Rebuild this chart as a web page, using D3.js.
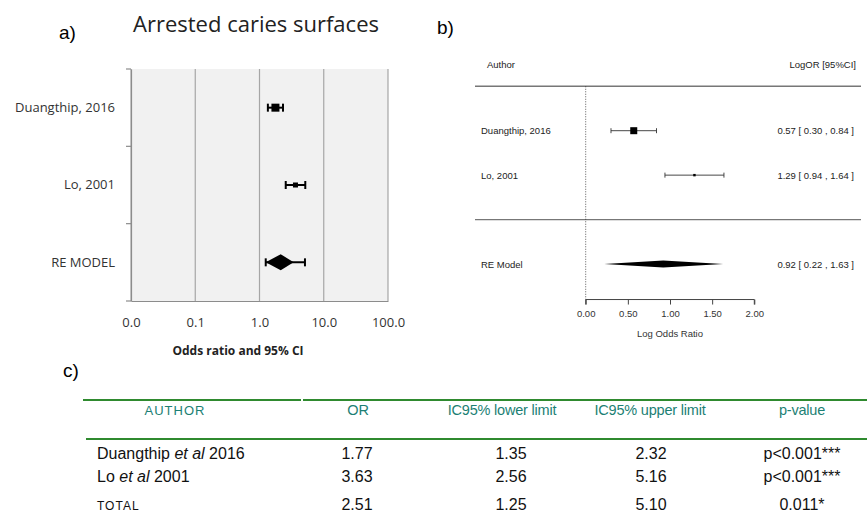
<!DOCTYPE html>
<html><head><meta charset="utf-8">
<script src="https://cdn.jsdelivr.net/npm/d3@7"></script>
<style>
html,body{margin:0;padding:0;background:#fff;}
svg{display:block;}
</style></head>
<body>
<svg id="c" width="867" height="514"></svg>
<script>
// ---------- DATA ----------
const studiesA = ["Duangthip, 2016", "Lo, 2001", "RE MODEL"];
const orValues = [1.77, 3.63, 2.51];
const orLower = [1.35, 2.56, 1.25];
const orUpper = [2.32, 5.16, 5.10];
const diamondA = [1.25, 2.14, 3.4];      // pooled diamond as drawn in panel a (left, centre, right)
const tickValuesA = [0.01, 0.1, 1, 10, 100];
const tickLabelsA = ["0.0", "0.1", "1.0", "10.0", "100.0"];

const studiesB = ["Duangthip, 2016", "Lo, 2001"];
const logOR = [0.57, 1.29];
const logLower = [0.30, 0.94];
const logUpper = [0.84, 1.64];
const weightsB = [0.75, 0.25];
const pooledLabel = "RE Model";
const pooledLog = [0.92, 0.22, 1.63];
const tickValuesB = [0, 0.5, 1, 1.5, 2];

const tableHeader = ["AUTHOR", "OR", "IC95% lower limit", "IC95% upper limit", "p-value"];
const tableAuthors = [["Duangthip ", "et al", " 2016"], ["Lo ", "et al", " 2001"], ["TOTAL", "", ""]];
const tableOR = ["1.77", "3.63", "2.51"];
const tableLower = ["1.35", "2.56", "1.25"];
const tableUpper = ["2.32", "5.16", "5.10"];
const tablePval = ["p<0.001***", "p<0.001***", "0.011*"];

const svg = d3.select("#c");

// ---------- PANEL A ----------
const fA = "'Open Sans', sans-serif";
const xA = d3.scaleLog().domain([0.01, 100]).range([131, 388]);
const yA = d3.scaleBand().domain(studiesA).range([69, 301]);
const gA = svg.append("g");

svg.append("text").attr("x", 59).attr("y", 39).attr("font-family", "'Liberation Sans', Arial, sans-serif")
  .attr("font-size", 19).text("a)");
gA.append("text").attr("x", 256).attr("y", 32).attr("text-anchor", "middle")
  .attr("font-family", fA).attr("font-size", 22).attr("fill", "#222").text("Arrested caries surfaces");

gA.append("rect").attr("x", xA(0.01)).attr("y", 69).attr("width", xA(100) - xA(0.01)).attr("height", 232)
  .attr("fill", "#f1f1f1");
// gridlines
gA.selectAll("line.grid").data(tickValuesA).join("line")
  .attr("x1", d => xA(d)).attr("x2", d => xA(d)).attr("y1", 69).attr("y2", 301)
  .attr("stroke", "#a6a6a6").attr("stroke-width", 1.2);
// x-axis
const axA = d3.axisBottom(xA).tickValues(tickValuesA).tickFormat((d, i) => tickLabelsA[i]).tickSize(0).tickPadding(16.5);
const gax = gA.append("g").attr("transform", "translate(0,301)").call(axA);
gax.select(".domain").attr("stroke", "#8c8c8c").attr("stroke-width", 1.2);
gax.selectAll("text").attr("font-family", fA).attr("font-size", 13).attr("fill", "#333");
// y-axis
const ayA = d3.axisLeft(yA).tickSize(0).tickPadding(16);
const gay = gA.append("g").attr("transform", `translate(${xA(0.01)},0)`).call(ayA);
gay.select(".domain").attr("stroke", "#8c8c8c").attr("stroke-width", 1.2);
gay.selectAll("text").attr("font-family", fA).attr("font-size", 13).attr("fill", "#333");
// band boundary ticks
gA.selectAll("line.yt").data([69, 69 + yA.step(), 69 + 2 * yA.step(), 301]).join("line")
  .attr("x1", xA(0.01) - 5).attr("x2", xA(0.01)).attr("y1", d => d).attr("y2", d => d)
  .attr("stroke", "#8c8c8c").attr("stroke-width", 1.2);

gA.append("text").attr("x", 238).attr("y", 355).attr("text-anchor", "middle")
  .attr("font-family", fA).attr("font-weight", "bold").attr("font-size", 12).attr("fill", "#222")
  .text("Odds ratio and 95% CI");

// whiskers
studiesA.forEach((s, i) => {
  const cy = yA(s) + yA.bandwidth() / 2;
  const g = gA.append("g");
  g.append("line").attr("x1", xA(orLower[i])).attr("x2", xA(orUpper[i])).attr("y1", cy).attr("y2", cy)
    .attr("stroke", "#000").attr("stroke-width", 2);
  [orLower[i], orUpper[i]].forEach(v => g.append("line").attr("x1", xA(v)).attr("x2", xA(v))
    .attr("y1", cy - 4).attr("y2", cy + 4).attr("stroke", "#000").attr("stroke-width", 2));
  if (i < 2) {
    const sz = i === 0 ? 8 : 5;
    g.append("rect").attr("x", xA(orValues[i]) - sz / 2).attr("y", cy - sz / 2)
      .attr("width", sz).attr("height", sz).attr("fill", "#000");
  } else {
    g.append("path").attr("d", `M${xA(diamondA[0])},${cy} L${xA(diamondA[1])},${cy - 8} L${xA(diamondA[2])},${cy} L${xA(diamondA[1])},${cy + 8}Z`)
      .attr("fill", "#000");
  }
});

// ---------- PANEL B ----------
const fB = "'Liberation Sans', Arial, sans-serif";
const xB = d3.scaleLinear().domain([0, 2]).range([585.7, 754.3]);
const yB = d3.scaleLinear().domain([0, 3]).range([264, 130.7]);
const gB = svg.append("g");
svg.append("text").attr("x", 437).attr("y", 34).attr("font-family", fB).attr("font-size", 19).text("b)");

gB.append("text").attr("x", 487).attr("y", yB(4.5) + 3.5).attr("font-family", fB).attr("font-size", 9.5).attr("fill", "#222").text("Author");
gB.append("text").attr("x", 856).attr("y", yB(4.5) + 3.5).attr("text-anchor", "end").attr("font-family", fB).attr("font-size", 9.5).attr("fill", "#222").text("LogOR  [95%CI]");
[4, 1].forEach(r => gB.append("line").attr("x1", 475).attr("x2", 861).attr("y1", yB(r)).attr("y2", yB(r))
  .attr("stroke", "#777").attr("stroke-width", 1.3));
gB.append("line").attr("x1", xB(0)).attr("x2", xB(0)).attr("y1", yB(4)).attr("y2", yB(-0.8))
  .attr("stroke", "#333").attr("stroke-width", 0.8).attr("stroke-dasharray", "1,1.5");

const axB = d3.axisBottom(xB).tickValues(tickValuesB).tickFormat(d3.format(".2f")).tickSize(5).tickPadding(6);
const gbx = gB.append("g").attr("transform", `translate(0,${yB(-0.8)})`).call(axB);
gbx.select(".domain").attr("stroke", "#444").attr("d", `M${xB(0)},5V0H${xB(2)}V5`);
gbx.selectAll(".tick line").attr("stroke", "#444");
gbx.selectAll("text").attr("font-family", fB).attr("font-size", 9.5).attr("fill", "#333");
gB.append("text").attr("x", xB(1)).attr("y", 337).attr("text-anchor", "middle").attr("font-family", fB)
  .attr("font-size", 9.5).attr("fill", "#333").text("Log Odds Ratio");

const fmt = d3.format(".2f");
studiesB.forEach((s, i) => {
  const cy = yB(3 - i);
  gB.append("text").attr("x", 481).attr("y", cy + 3.5).attr("font-family", fB).attr("font-size", 9.5).attr("fill", "#222").text(s);
  gB.append("line").attr("x1", xB(logLower[i])).attr("x2", xB(logUpper[i])).attr("y1", cy).attr("y2", cy).attr("stroke", "#333").attr("stroke-width", 0.9);
  [logLower[i], logUpper[i]].forEach(v => gB.append("line").attr("x1", xB(v)).attr("x2", xB(v)).attr("y1", cy - 2.5).attr("y2", cy + 2.5).attr("stroke", "#333").attr("stroke-width", 0.9));
  const sz = 7 * Math.sqrt(weightsB[i] / weightsB[0]) * (i === 0 ? 1 : 0.6);
  gB.append("rect").attr("x", xB(logOR[i]) - sz / 2).attr("y", cy - sz / 2).attr("width", sz).attr("height", sz).attr("fill", "#000");
  gB.append("text").attr("x", 854).attr("y", cy + 3.5).attr("text-anchor", "end").attr("font-family", fB).attr("font-size", 9.5).attr("fill", "#222")
    .text(`${fmt(logOR[i])} [ ${fmt(logLower[i])} , ${fmt(logUpper[i])} ]`);
});
{
  const cy = yB(0);
  gB.append("text").attr("x", 481).attr("y", cy + 3.5).attr("font-family", fB).attr("font-size", 9.5).attr("fill", "#222").text(pooledLabel);
  gB.append("path").attr("d", `M${xB(pooledLog[1])},${cy} L${xB(pooledLog[0])},${cy - 3.5} L${xB(pooledLog[2])},${cy} L${xB(pooledLog[0])},${cy + 3.5}Z`).attr("fill", "#000");
  gB.append("text").attr("x", 854).attr("y", cy + 3.5).attr("text-anchor", "end").attr("font-family", fB).attr("font-size", 9.5).attr("fill", "#222")
    .text(`${fmt(pooledLog[0])} [ ${fmt(pooledLog[1])} , ${fmt(pooledLog[2])} ]`);
}

// ---------- PANEL C (table) ----------
const fC = "'Liberation Sans', Arial, sans-serif";
const gC = svg.append("g");
svg.append("text").attr("x", 63).attr("y", 377).attr("font-family", fC).attr("font-size", 19).text("c)");
const green = "#2f8a2f";
gC.append("line").attr("x1", 83).attr("x2", 301).attr("y1", 400).attr("y2", 400).attr("stroke", green).attr("stroke-width", 2);
gC.append("line").attr("x1", 303).attr("x2", 867).attr("y1", 400).attr("y2", 400).attr("stroke", green).attr("stroke-width", 2);
gC.append("line").attr("x1", 86).attr("x2", 867).attr("y1", 439).attr("y2", 439).attr("stroke", green).attr("stroke-width", 2);

const headX = [175, 358, 502, 650, 802];
const valX = [97, 357, 511, 651, 802];
const teal = "#1c7f74";
gC.selectAll("text.h").data(tableHeader).join("text")
  .attr("x", (d, i) => headX[i]).attr("y", 414.5).attr("text-anchor", "middle")
  .attr("font-family", fC).attr("font-size", (d, i) => i === 0 ? 13 : 14.5).attr("fill", teal)
  .attr("letter-spacing", (d, i) => i === 0 ? 1 : -0.2).text(d => d);

const rowY = [458.5, 482, 510];
tableAuthors.forEach((a, r) => {
  const t = gC.append("text").attr("x", valX[0]).attr("y", rowY[r]).attr("font-family", fC)
    .attr("font-size", r === 2 ? 12 : 16).attr("fill", "#111").attr("letter-spacing", r === 2 ? 1 : 0);
  t.append("tspan").text(a[0]);
  if (a[1]) t.append("tspan").attr("font-style", "italic").text(a[1]);
  if (a[2]) t.append("tspan").text(a[2]);
});
[tableOR, tableLower, tableUpper, tablePval].forEach((col, c) => {
  col.forEach((v, r) => gC.append("text").attr("x", valX[c + 1]).attr("y", rowY[r]).attr("text-anchor", "middle")
    .attr("font-family", fC).attr("font-size", 16).attr("fill", "#111").text(v));
});
</script>
</body></html>
